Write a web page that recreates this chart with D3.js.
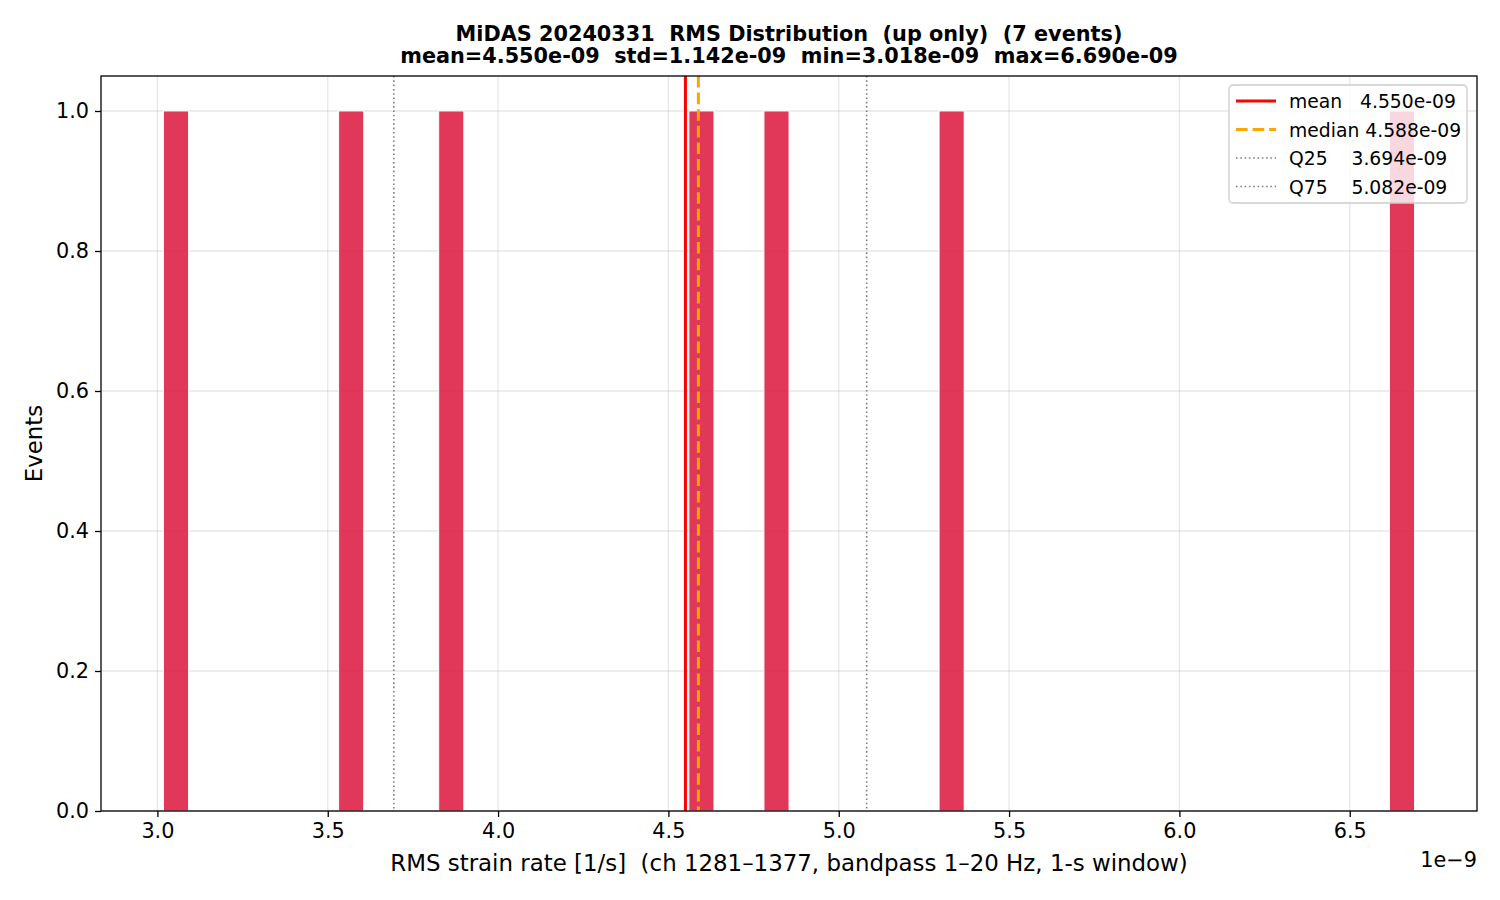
<!DOCTYPE html>
<html><head><meta charset="utf-8">
<script src="https://cdn.jsdelivr.net/npm/d3@7"></script>
<style>body{margin:0;background:#fff}svg{display:block}text{font-family:"DejaVu Sans",sans-serif;fill:#000;white-space:pre}</style>
</head><body><svg id="c" width="1500" height="900"></svg>
<script>
// RMS values of the 7 events (units of 1e-9 1/s)
const eventValues = [3.018, 3.550, 3.838, 4.588, 4.800, 5.364, 6.690];
const nBins = 50;
const statNames = ["mean", "median", "Q25", "Q75"];
const statValues = [4.550, 4.588, 3.694, 5.082];
const statLabels = ["4.550e-09", "4.588e-09", "3.694e-09", "5.082e-09"];
const xTicks = [3.0, 3.5, 4.0, 4.5, 5.0, 5.5, 6.0, 6.5];
const yTicks = [0.0, 0.2, 0.4, 0.6, 0.8, 1.0];
const titleLines = ["MiDAS 20240331  RMS Distribution  (up only)  (7 events)",
  "mean=4.550e-09  std=1.142e-09  min=3.018e-09  max=6.690e-09"];
const xLabel = "RMS strain rate [1/s]  (ch 1281\u20131377, bandpass 1\u201320 Hz, 1-s window)";
const yLabel = "Events";

const svg = d3.select("#c");
const L = 101, R = 1477, T = 76, B = 811;
const vmin = d3.min(eventValues), vmax = d3.max(eventValues);
const pad = (vmax - vmin) * 0.05;
const x = d3.scaleLinear().domain([vmin - pad, vmax + pad]).range([L, R]);
const bw = (vmax - vmin) / nBins;
const thresholds = d3.range(1, nBins).map(i => vmin + i * bw);
const bins = d3.bin().domain([vmin, vmax]).thresholds(thresholds)(eventValues);
const ymax = d3.max(bins, b => b.length) * 1.05;
const y = d3.scaleLinear().domain([0, ymax]).range([B, T]);

const TF = 20.8, LF = 22.9;
// grid
const g = svg.append("g");
g.selectAll(".gx").data(xTicks).join("line")
  .attr("x1", d => x(d)).attr("x2", d => x(d)).attr("y1", T).attr("y2", B)
  .attr("stroke", "#b0b0b0").attr("stroke-opacity", 0.3).attr("stroke-width", 1.3);
g.selectAll(".gy").data(yTicks).join("line")
  .attr("y1", d => y(d)).attr("y2", d => y(d)).attr("x1", L).attr("x2", R)
  .attr("stroke", "#b0b0b0").attr("stroke-opacity", 0.3).attr("stroke-width", 1.3);

// bars
svg.append("g").selectAll("rect").data(bins.filter(b => b.length > 0)).join("rect")
  .attr("x", d => x(d.x0)).attr("width", d => x(d.x1) - x(d.x0))
  .attr("y", d => y(d.length)).attr("height", d => y(0) - y(d.length))
  .attr("fill", "crimson").attr("fill-opacity", 0.85)
  .attr("stroke", "#fff").attr("stroke-width", 0.9);

// stat lines
const styles = [
  {c: "#ff0000", w: 3, d: null},
  {c: "#ffa500", w: 3, d: "11.6,5"},
  {c: "#808080", w: 1.6, d: "1.6,2.7"},
  {c: "#808080", w: 1.6, d: "1.6,2.7"}
];
statValues.forEach((v, i) => {
  const s = styles[i];
  const ln = svg.append("line").attr("x1", x(v)).attr("x2", x(v)).attr("y1", T).attr("y2", B)
    .attr("stroke", s.c).attr("stroke-width", s.w);
  if (s.d) ln.attr("stroke-dasharray", s.d);
});

// axes
const xa = svg.append("g").attr("transform", `translate(0,${B})`)
  .call(d3.axisBottom(x).tickValues(xTicks).tickFormat(d3.format(".1f")).tickSize(6).tickPadding(6));
const ya = svg.append("g").attr("transform", `translate(${L},0)`)
  .call(d3.axisLeft(y).tickValues(yTicks).tickFormat(d3.format(".1f")).tickSize(6).tickPadding(6));
[xa, ya].forEach(a => {
  a.select(".domain").remove();
  a.selectAll("line").attr("stroke", "#000").attr("stroke-width", 1.3);
  a.selectAll("text").style("font-family", "DejaVu Sans").style("font-size", TF + "px").attr("fill", "#000");
});
svg.append("rect").attr("x", L).attr("y", T).attr("width", R - L).attr("height", B - T)
  .attr("fill", "none").attr("stroke", "#000").attr("stroke-width", 1.3);

// labels
svg.append("text").attr("x", R).attr("y", 867).attr("text-anchor", "end").style("font-size", TF + "px").text("1e\u22129");
svg.append("text").attr("x", (L + R) / 2).attr("y", 871).attr("text-anchor", "middle").style("font-size", LF + "px").text(xLabel);
svg.append("text").attr("transform", `translate(42,${(T + B) / 2}) rotate(-90)`).attr("text-anchor", "middle").style("font-size", LF + "px").text(yLabel);
titleLines.forEach((t, i) => {
  svg.append("text").attr("x", (L + R) / 2).attr("y", 41 + i * 22).attr("text-anchor", "middle")
    .style("font-size", "20.8px").style("font-weight", "bold").text(t);
});

// legend
const lg = svg.append("g").attr("transform", "translate(1229,85)");
lg.append("rect").attr("width", 238).attr("height", 118).attr("rx", 4)
  .attr("fill", "#fff").attr("fill-opacity", 0.8).attr("stroke", "#cccccc").attr("stroke-width", 1.3);
statNames.forEach((n, i) => {
  const yy = 16 + i * 28.5;
  const s = styles[i];
  const ln = lg.append("line").attr("x1", 7).attr("x2", 47).attr("y1", yy).attr("y2", yy)
    .attr("stroke", s.c).attr("stroke-width", s.w);
  if (s.d) ln.attr("stroke-dasharray", s.d);
  const label = n === "median" ? "median " + statLabels[i] : (n.padEnd(7, " ") + statLabels[i]);
  lg.append("text").attr("x", 60).attr("y", yy + 7).style("font-size", "18.75px").text(label);
});
</script></body></html>
